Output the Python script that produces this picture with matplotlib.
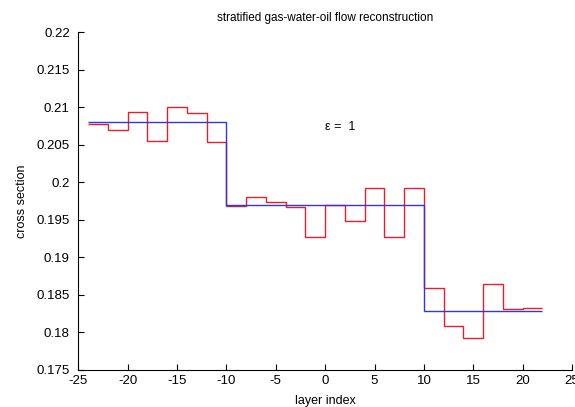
import numpy as np
import matplotlib
matplotlib.use("Agg")
import matplotlib.pyplot as plt

plt.rcParams['font.family'] = ['Liberation Sans', 'DejaVu Sans']
plt.rcParams['axes.unicode_minus'] = False

# layer boundaries (width 2) and reconstructed cross section per layer
layer_edges = np.arange(-24, 24, 2)
recon = [0.2077, 0.2070, 0.2093, 0.2055, 0.2100, 0.2092, 0.2054,
         0.1968, 0.1980, 0.1974, 0.1967, 0.1927, 0.1970, 0.1949,
         0.1993, 0.1927, 0.1993,
         0.1859, 0.1809, 0.1792, 0.1864, 0.1831, 0.1832]

# true stratified profile: gas / water / oil
true_edges = [-24, -10, 10, 22]
true_vals = [0.2080, 0.1970, 0.1829]

fig = plt.figure(figsize=(5.75, 4.07), dpi=100)
ax = fig.add_axes([0.136, 0.091, 0.859, 0.830])

ax.stairs(recon, layer_edges, color='#e3202c', linewidth=1.0, baseline=None)
ax.stairs(true_vals, true_edges, color='#3535dd', linewidth=1.0, baseline=None)

ax.text(0, 0.2074, 'ε =  1', fontsize=9, ha='left', va='center')

ax.set_xlim(-25, 25)
ax.set_ylim(0.175, 0.22)
ax.set_xticks(np.arange(-25, 26, 5))
ax.set_yticks(np.arange(0.175, 0.2201, 0.005))
ax.set_yticklabels(['0.175', '0.18', '0.185', '0.19', '0.195', '0.2',
                    '0.205', '0.21', '0.215', '0.22'])
ax.tick_params(direction='in', length=4, labelsize=9.5, width=0.8)
ax.tick_params(axis='y', pad=6)
ax.spines['top'].set_visible(False)
ax.spines['right'].set_visible(False)

ax.set_title('stratified gas-water-oil flow reconstruction', fontsize=8.5, pad=8)
ax.set_xlabel('layer index', fontsize=9, labelpad=6)
ax.set_ylabel('cross section', fontsize=9, labelpad=6)

fig.savefig('out.png', dpi=100)
